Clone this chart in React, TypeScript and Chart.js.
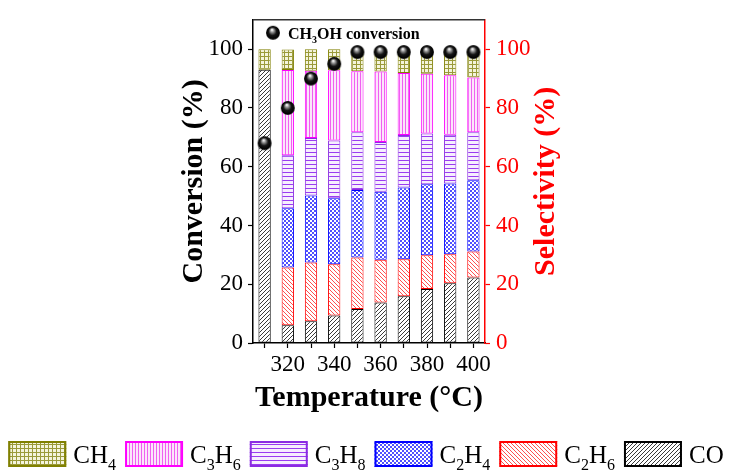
import React, { useEffect, useRef } from 'react';
import { Chart, registerables } from 'chart.js';

Chart.register(...registerables);

// ---------- data ----------
const temperatures = ['310', '320', '330', '340', '350', '360', '370', '380', '390', '400'];
const selCO = [93, 6, 7.4, 9.4, 11.6, 13.8, 15.9, 18.4, 20.3, 22.3];
const selC2H6 = [null, 19.7, 20, 17.4, 17.5, 14.5, 12.6, 11.5, 9.9, 8.8];
const selC2H4 = [null, 20.2, 22.8, 22.5, 23, 23.2, 24.4, 24.1, 24.1, 24.3];
const selC3H8 = [null, 18, 19.6, 19.6, 19.6, 16.9, 17.9, 17.3, 16.6, 16.3];
const selC3H6 = [null, 29, 22.9, 23.9, 20.8, 24, 21.1, 20.3, 20.2, 18.7];
const selCH4 = [7, 7, 7.3, 7.2, 7.5, 7.6, 8.1, 8.4, 8.9, 9.6];
const conversionCH3OH = [68, 80, 90, 95, 99, 99, 99, 99, 99, 99];
const axisLabelValues = [0, 20, 40, 60, 80, 100];

const FONT = "'Times New Roman', 'Liberation Serif', serif";

function makePattern(kind: string, fg: string, bg: string) {
  const c = document.createElement('canvas');
  const s = kind === 'vert' ? 3 : 4;
  c.width = s;
  c.height = s;
  const g = c.getContext('2d')!;
  g.fillStyle = bg;
  g.fillRect(0, 0, s, s);
  g.strokeStyle = fg;
  g.fillStyle = fg;
  g.lineWidth = 1;
  if (kind === 'slash') {
    g.beginPath();
    g.moveTo(0, s); g.lineTo(s, 0);
    g.moveTo(-1, 1); g.lineTo(1, -1);
    g.moveTo(s - 1, s + 1); g.lineTo(s + 1, s - 1);
    g.stroke();
  } else if (kind === 'back') {
    g.beginPath();
    g.moveTo(0, 0); g.lineTo(s, s);
    g.moveTo(s - 1, -1); g.lineTo(s + 1, 1);
    g.moveTo(-1, s - 1); g.lineTo(1, s + 1);
    g.stroke();
  } else if (kind === 'check') {
    g.fillRect(0, 0, 2, 2);
    g.fillRect(2, 2, 2, 2);
  } else if (kind === 'horiz') {
    g.fillRect(0, 0, s, 1);
  } else if (kind === 'vert') {
    g.fillRect(0, 0, 1, s);
  } else if (kind === 'grid') {
    g.fillRect(0, 0, s, 1);
    g.fillRect(0, 0, 1, s);
  }
  return g.createPattern(c, 'repeat')!;
}

function makeSphere(r: number) {
  const c = document.createElement('canvas');
  const s = Math.ceil(r * 2 + 2);
  c.width = s;
  c.height = s;
  const g = c.getContext('2d')!;
  const cx = s / 2, cy = s / 2;
  const grad = g.createRadialGradient(cx - r * 0.15, cy - r * 0.45, r * 0.05, cx, cy, r);
  grad.addColorStop(0, '#ffffff');
  grad.addColorStop(0.22, '#9a9a9a');
  grad.addColorStop(0.55, '#151515');
  grad.addColorStop(0.9, '#000000');
  grad.addColorStop(1, '#333333');
  g.fillStyle = grad;
  g.beginPath();
  g.arc(cx, cy, r, 0, Math.PI * 2);
  g.fill();
  return c;
}

function formulaWidth(ctx: CanvasRenderingContext2D, text: string, size: number, bold: boolean) {
  let w = 0;
  for (const ch of text) {
    const sub = /\d/.test(ch);
    ctx.font = `${bold ? 'bold ' : ''}${sub ? Math.round(size * 0.65) : size}px ${FONT}`;
    w += ctx.measureText(ch).width;
  }
  return w;
}

function drawFormula(ctx: CanvasRenderingContext2D, text: string, x: number, y: number, size: number, bold: boolean, color: string) {
  let cx = x;
  ctx.fillStyle = color;
  ctx.textAlign = 'left';
  ctx.textBaseline = 'alphabetic';
  for (const ch of text) {
    const sub = /\d/.test(ch);
    ctx.font = `${bold ? 'bold ' : ''}${sub ? Math.round(size * 0.65) : size}px ${FONT}`;
    ctx.fillText(ch, cx, sub ? y + size * 0.28 : y);
    cx += ctx.measureText(ch).width;
  }
}

const tickLabel = (v: any) => (axisLabelValues.includes(Number(v)) ? String(v) : '');

export default function App() {
  const ref = useRef<HTMLCanvasElement>(null);

  useEffect(() => {
    if (!ref.current) return;
    const sphere = makeSphere(7);

    const decor = {
      id: 'decor',
      afterDraw(chart: any) {
        const ctx: CanvasRenderingContext2D = chart.ctx;
        const { left, right, top, bottom } = chart.chartArea;
        ctx.save();
        // top frame line
        ctx.strokeStyle = '#333';
        ctx.lineWidth = 1.5;
        ctx.beginPath();
        ctx.moveTo(left, top);
        ctx.lineTo(right, top);
        ctx.stroke();

        // right axis title (reads bottom to top)
        ctx.save();
        ctx.translate(546, (top + bottom) / 2);
        ctx.rotate(-Math.PI / 2);
        ctx.font = `bold 30px ${FONT}`;
        ctx.fillStyle = '#ff0000';
        ctx.textAlign = 'center';
        ctx.textBaseline = 'middle';
        ctx.fillText('Selectivity (%)', 0, 0);
        ctx.restore();

        // inner legend for conversion
        ctx.drawImage(sphere, left + 20 - sphere.width / 2, top + 13 - sphere.height / 2);
        drawFormula(ctx, 'CH3OH conversion', left + 35, top + 19, 16, true, '#000');

        // bottom legend
        const items = chart.data.datasets.filter((d: any) => d.type !== 'line').slice().reverse();
        const size = 25, boxW = 58, boxH = 26, gapText = 7, gapItem = 9;
        const widths = items.map((d: any) => formulaWidth(ctx, d.label, size, false));
        const total = widths.reduce((s: number, w: number) => s + boxW + gapText + w, 0) + gapItem * (items.length - 1);
        let x = (chart.width - total) / 2;
        const boxTop = chart.height - 30;
        items.forEach((d: any, i: number) => {
          ctx.fillStyle = d.backgroundColor;
          ctx.fillRect(x, boxTop, boxW, boxH);
          ctx.strokeStyle = d.borderColor;
          ctx.lineWidth = 2;
          ctx.strokeRect(x + 1, boxTop + 1, boxW - 2, boxH - 2);
          drawFormula(ctx, d.label, x + boxW + gapText, boxTop + 22, size, false, '#000');
          x += boxW + gapText + widths[i] + gapItem;
        });
        ctx.restore();
      },
    };

    const barCommon = { borderWidth: 1, borderSkipped: false as const, barPercentage: 0.53, categoryPercentage: 1, yAxisID: 'y' };

    const chart = new Chart(ref.current, {
      type: 'bar',
      data: {
        labels: temperatures,
        datasets: [
          {
            type: 'line' as const,
            label: 'CH3OH conversion',
            data: conversionCH3OH,
            showLine: false,
            pointStyle: sphere as any,
            pointRadius: 7,
            order: -1,
            yAxisID: 'y',
          } as any,
          { ...barCommon, label: 'CO', data: selCO, backgroundColor: makePattern('slash', '#3a3a3a', '#ffffff'), borderColor: '#000000' },
          { ...barCommon, label: 'C2H6', data: selC2H6, backgroundColor: makePattern('back', '#ff5050', '#ffffff'), borderColor: '#ff0000' },
          { ...barCommon, label: 'C2H4', data: selC2H4, backgroundColor: makePattern('check', '#5050ff', '#ffffff'), borderColor: '#0000ff' },
          { ...barCommon, label: 'C3H8', data: selC3H8, backgroundColor: makePattern('horiz', '#9a3cf0', '#f6eefe'), borderColor: '#8a2be2' },
          { ...barCommon, label: 'C3H6', data: selC3H6, backgroundColor: makePattern('vert', '#f060f0', '#fbe6fb'), borderColor: '#ff00ff' },
          { ...barCommon, label: 'CH4', data: selCH4, backgroundColor: makePattern('grid', '#9a9a3a', '#f4f4dc'), borderColor: '#808000' },
        ],
      },
      options: {
        responsive: true,
        maintainAspectRatio: false,
        animation: false,
        layout: { padding: { top: 17, left: 0, right: 0, bottom: 0 } },
        plugins: { legend: { display: false }, tooltip: { enabled: false } },
        scales: {
          x: {
            stacked: true,
            offset: true,
            grid: { offset: false, drawOnChartArea: false, drawTicks: true, tickLength: 5, color: '#000', tickWidth: 1.2 },
            border: { color: '#000', width: 1.5 },
            ticks: {
              autoSkip: false,
              maxRotation: 0,
              padding: 3,
              color: '#000',
              font: { family: FONT, size: 23 },
              callback: (_v: any, i: number) => (Number(temperatures[i]) % 20 === 0 ? temperatures[i] : ''),
            },
            title: {
              display: true,
              text: 'Temperature (°C)',
              color: '#000',
              font: { family: FONT, size: 30, weight: 'bold' },
              padding: { top: 0, bottom: 55 },
            },
            afterFit: (s: any) => { s.height = 128; },
          },
          y: {
            position: 'left',
            stacked: true,
            min: 0,
            max: 110,
            grid: {
              drawOnChartArea: false, drawTicks: true, tickLength: 5, tickWidth: 1.2,
              tickColor: (c: any) => (c.tick && c.tick.value > 100 ? 'rgba(0,0,0,0)' : '#000'),
            },
            border: { color: '#000', width: 1.5 },
            ticks: { stepSize: 10, padding: 5, color: '#000', font: { family: FONT, size: 23 }, callback: tickLabel },
            title: {
              display: true,
              text: 'Conversion (%)',
              color: '#000',
              font: { family: FONT, size: 30, weight: 'bold' },
              padding: { top: 176, bottom: 0 },
            },
            afterFit: (s: any) => { s.width = 253; },
          },
          y2: {
            position: 'right',
            min: 0,
            max: 110,
            grid: {
              drawOnChartArea: false, drawTicks: true, tickLength: 5, tickWidth: 1.2,
              tickColor: (c: any) => (c.tick && c.tick.value > 100 ? 'rgba(0,0,0,0)' : '#ff0000'),
            },
            border: { color: '#ff0000', width: 1.5 },
            ticks: { stepSize: 10, padding: 6, color: '#ff0000', font: { family: FONT, size: 23 }, callback: tickLabel },
            title: { display: false },
            afterFit: (s: any) => { s.width = 247; },
          },
        },
      } as any,
      plugins: [decor],
    });
    return () => chart.destroy();
  }, []);

  return (
    <div style={{ position: 'absolute', left: 0, top: 0, width: 732, height: 471, background: '#fff' }}>
      <canvas ref={ref} />
    </div>
  );
}
